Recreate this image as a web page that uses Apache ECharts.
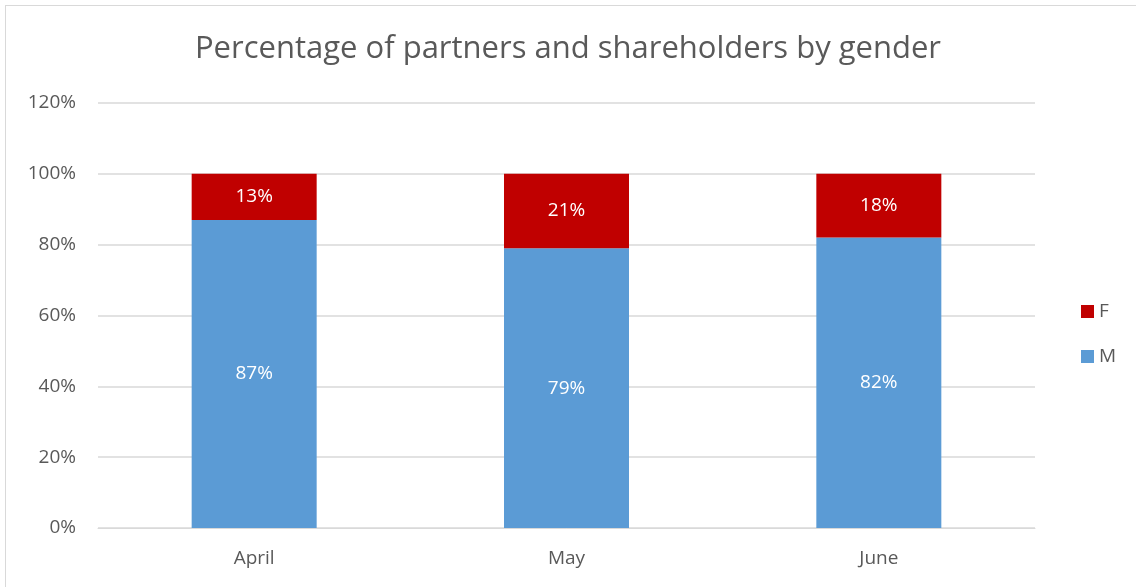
<!DOCTYPE html>
<html>
<head>
<meta charset="utf-8">
<script src="https://cdn.jsdelivr.net/npm/echarts@6/dist/echarts.min.js"></script>
<style>
  html, body { margin: 0; padding: 0; background: #fff; }
  #main { width: 1136px; height: 587px; }
  #frame { position: absolute; left: 5px; top: 5px; width: 1140px; height: 600px; border: 1px solid #d9d9d9; pointer-events: none; }
</style>
</head>
<body>
<div id="main"></div>
<div id="frame"></div>
<script>
// values (percent)
let months = ["April", "May", "June"];
let maleShare = [87, 79, 82];
let femaleShare = [13, 21, 18];
let yTicks = [0, 20, 40, 60, 80, 100, 120];

let myChart = echarts.init(document.getElementById("main"));

let textFont = "'Open Sans', 'Liberation Sans', sans-serif";
let labelStyle = {
  show: true,
  position: "inside",
  color: "#fff",
  fontSize: 19,
  fontFamily: textFont,
  formatter: (p) => p.value + "%",
};

let options = {
  animation: false,
  title: {
    text: "Percentage of partners and shareholders by gender",
    left: "center",
    top: 29,
    textStyle: { color: "#595959", fontSize: 31, fontWeight: "normal", fontFamily: textFont },
  },
  legend: {
    data: ["F", "M"],
    orient: "vertical",
    left: 1076,
    top: 297,
    itemWidth: 13,
    itemHeight: 13,
    itemGap: 26,
    icon: "rect",
    textStyle: { color: "#595959", fontSize: 19, fontFamily: textFont },
  },
  grid: { left: 98, right: 101, top: 103, bottom: 59 },
  xAxis: {
    type: "category",
    data: months,
    axisLine: { lineStyle: { color: "#d9d9d9" } },
    axisTick: { show: false },
    axisLabel: { color: "#595959", fontSize: 19, fontFamily: textFont, margin: 21 },
  },
  yAxis: {
    type: "value",
    min: yTicks[0],
    max: yTicks[yTicks.length - 1],
    interval: 20,
    axisLine: { show: false },
    axisTick: { show: false },
    splitLine: { lineStyle: { color: "#d9d9d9", width: 1.5 } },
    axisLabel: {
      color: "#595959",
      fontSize: 19,
      fontFamily: textFont,
      margin: 22,
      formatter: (v) => v + "%",
    },
  },
  series: [
    {
      name: "M",
      type: "bar",
      stack: "total",
      barWidth: 125,
      data: maleShare,
      itemStyle: { color: "#5b9bd5" },
      label: labelStyle,
    },
    {
      name: "F",
      type: "bar",
      stack: "total",
      barWidth: 125,
      data: femaleShare,
      itemStyle: { color: "#c00000" },
      label: labelStyle,
    },
  ],
};
myChart.setOption(options);
</script>
</body>
</html>
